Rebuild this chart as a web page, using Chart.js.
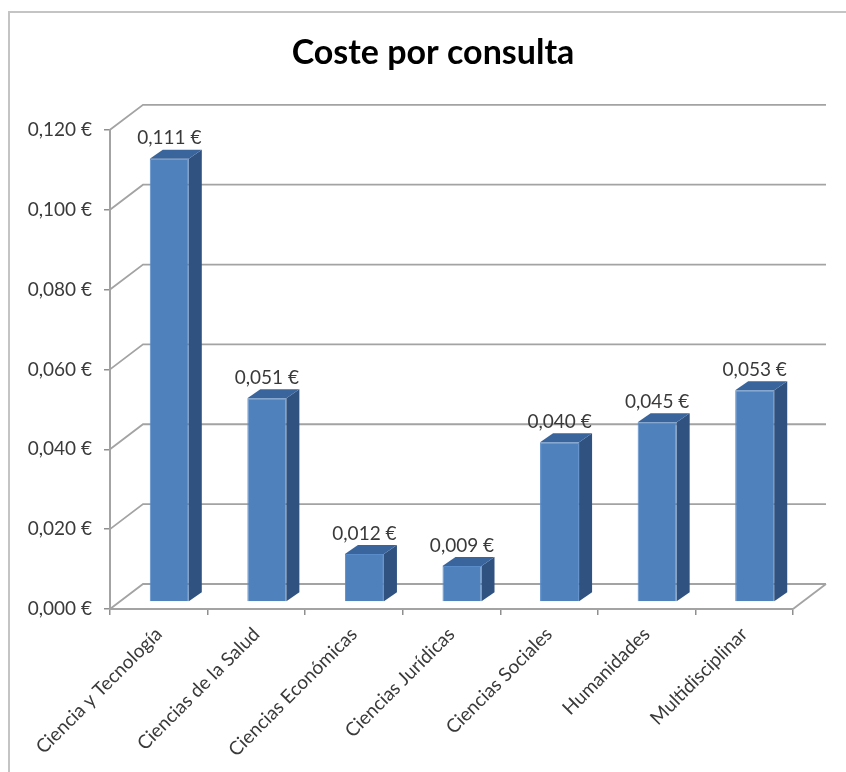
<!DOCTYPE html>
<html><head><meta charset="utf-8">
<script src="https://cdn.jsdelivr.net/npm/chart.js@4"></script>
<style>html,body{margin:0;padding:0;background:#fff}#w{position:relative;width:846px;height:772px}</style>
</head><body><div id="w"><canvas id="c" width="846" height="772"></canvas></div>
<script>
const categories=["Ciencia y Tecnología","Ciencias de la Salud","Ciencias Económicas","Ciencias Jurídicas","Ciencias Sociales","Humanidades","Multidisciplinar"];
const values=[0.111,0.051,0.012,0.009,0.040,0.045,0.053];
const titleText="Coste por consulta";
const euro=v=>v.toFixed(3).replace('.',',')+' €';
const depth={wx:33,wy:25,bx:10.5,by:7,sx:13,sy:9};
const colors={front:'#4f81bd',side:'#2f5280',top:'#3a659c',grid:'#a3a3a3',text:'#3a3a3a',frame:'#c4c4c4'};
const frame3d={id:'frame3d',
 afterLayout(ch){ch.scales.y.left=0;},
 beforeDraw(ch){const {ctx}=ch;ctx.save();ctx.strokeStyle=colors.frame;ctx.lineWidth=2;ctx.beginPath();ctx.moveTo(9,772);ctx.lineTo(9,12);ctx.lineTo(846,12);ctx.stroke();ctx.restore();},
 beforeDatasetsDraw(ch){const {ctx,chartArea:a,scales:{y}}=ch;ctx.save();ctx.strokeStyle=colors.grid;ctx.lineWidth=1.8;
  y.ticks.forEach(t=>{const p=y.getPixelForValue(t.value);ctx.beginPath();ctx.moveTo(a.left,p);ctx.lineTo(a.left+depth.wx,p-depth.wy);ctx.lineTo(a.right+depth.wx,p-depth.wy);ctx.stroke();});
  ctx.beginPath();ctx.moveTo(a.right,a.bottom);ctx.lineTo(a.right+depth.wx,a.bottom-depth.wy);ctx.stroke();
  ctx.restore();
  ctx.save();ctx.translate(depth.bx,-depth.by);},
 afterDatasetsDraw(ch){const {ctx}=ch;
  ch.getDatasetMeta(0).data.forEach((b,i)=>{const l=b.x-b.width/2,r=b.x+b.width/2,t=b.y,bt=b.base;
   ctx.fillStyle=colors.side;ctx.beginPath();ctx.moveTo(r,t);ctx.lineTo(r+depth.sx,t-depth.sy);ctx.lineTo(r+depth.sx,bt-depth.sy);ctx.lineTo(r,bt);ctx.closePath();ctx.fill();
   ctx.fillStyle=colors.top;ctx.beginPath();ctx.moveTo(l,t);ctx.lineTo(l+depth.sx,t-depth.sy);ctx.lineTo(r+depth.sx,t-depth.sy);ctx.lineTo(r,t);ctx.closePath();ctx.fill();
   ctx.fillStyle=colors.text;ctx.font='19px Lato';ctx.textAlign='center';ctx.textBaseline='bottom';ctx.fillText(euro(values[i]),b.x,t-11);
  });
  ctx.restore();}
};
new Chart(document.getElementById('c'),{type:'bar',
 data:{labels:categories,datasets:[{data:values,backgroundColor:colors.front,borderColor:'#5a8cc9',borderWidth:1,barPercentage:0.4,categoryPercentage:1}]},
 plugins:[frame3d],
 options:{responsive:false,animation:false,devicePixelRatio:1,
  layout:{padding:{left:73,right:53,top:0,bottom:0}},
  plugins:{legend:{display:false},tooltip:{enabled:false},
   title:{display:true,text:titleText,color:'#000',font:{family:'Lato',size:34,weight:'bold'},padding:{top:33,bottom:56}}},
  scales:{
   x:{afterFit(s){s.height=163;},grid:{drawOnChartArea:false,color:'#8f8f8f',tickLength:6,lineWidth:1.5},border:{color:'#a3a3a3',width:2},
      ticks:{color:colors.text,font:{family:'Lato',size:19},minRotation:45,maxRotation:45,padding:8,autoSkip:false}},
   y:{min:0,max:0.12,afterFit(s){s.width=37;},grid:{drawOnChartArea:false,color:'#8f8f8f',tickLength:6,lineWidth:1.5},border:{color:'#a3a3a3',width:2},
      ticks:{stepSize:0.02,color:colors.text,font:{family:'Lato',size:19},padding:12,callback:v=>euro(v)}}
  }}});
</script></body></html>
